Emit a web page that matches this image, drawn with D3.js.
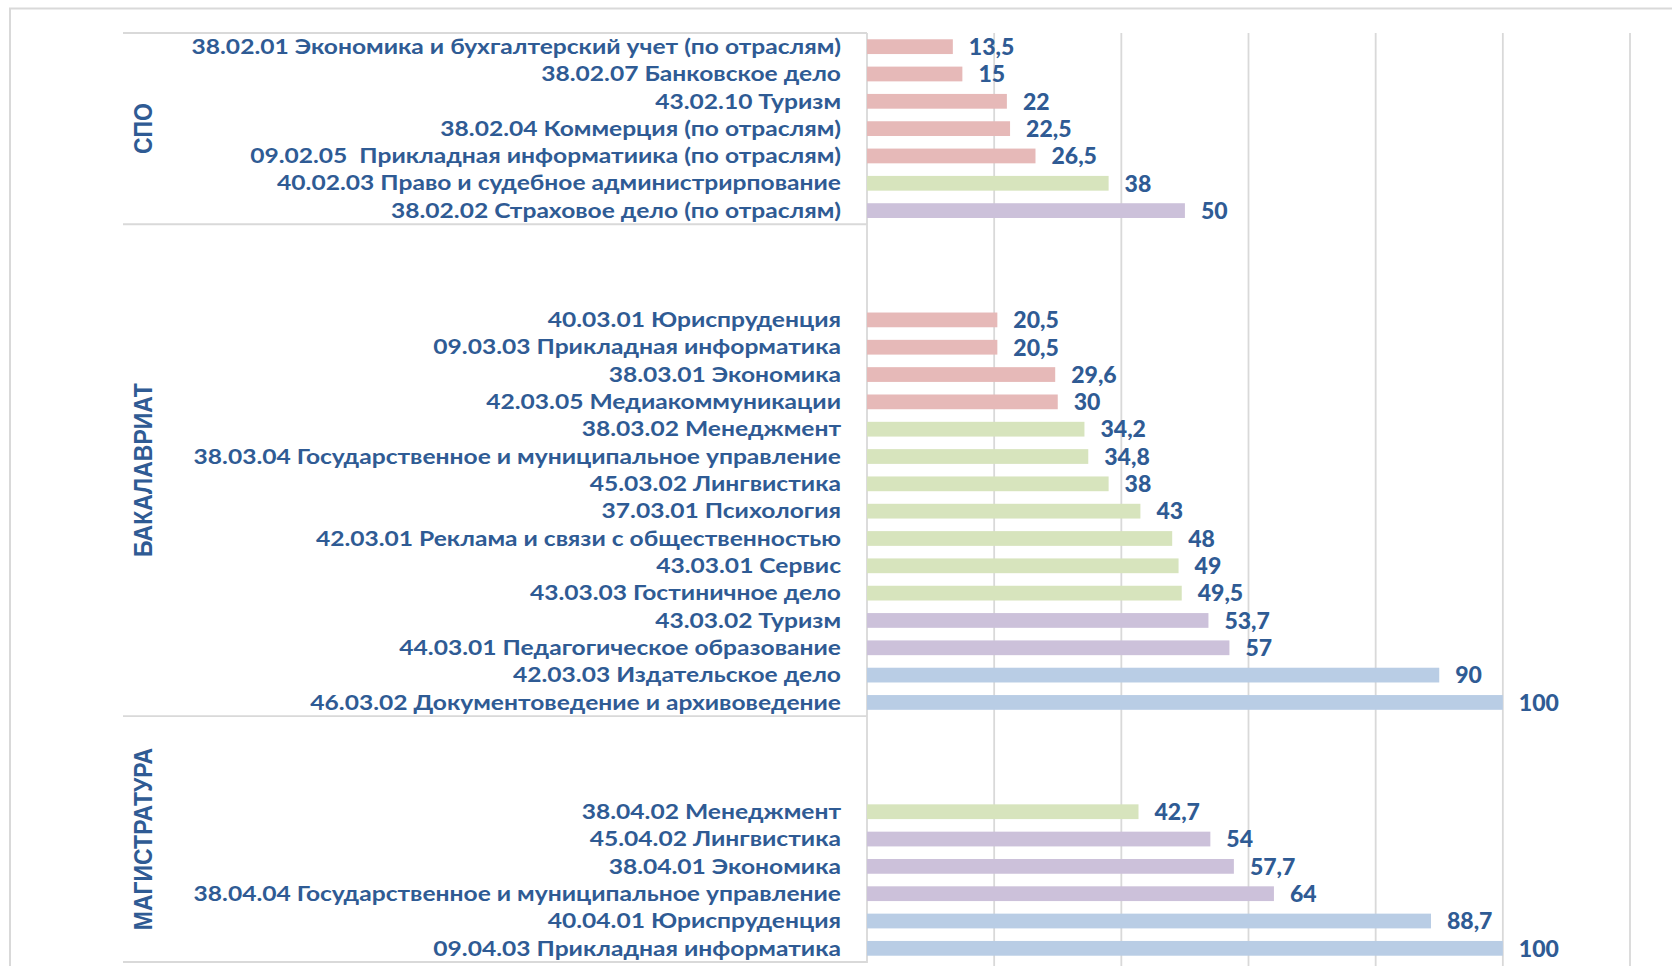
<!DOCTYPE html>
<html>
<head>
<meta charset="utf-8">
<script src="https://cdn.jsdelivr.net/npm/d3@7"></script>
<style>
  body { margin: 0; background: #fff; }
  text { white-space: pre; }
</style>
</head>
<body>
<div id="chart"></div>
<script>
// data
const groups = ["СПО", "БАКАЛАВРИАТ", "МАГИСТРАТУРА"];
const emptyRows = [0, 3, 3]; // blank category slots at the start of each group

const spoLabels = [
  "38.02.01 Экономика и бухгалтерский учет (по отраслям)",
  "38.02.07 Банковское дело",
  "43.02.10 Туризм",
  "38.02.04 Коммерция (по отраслям)",
  "09.02.05  Прикладная информатиика (по отраслям)",
  "40.02.03 Право и судебное администрирпование",
  "38.02.02 Страховое дело (по отраслям)"
];
const spoValues = [13.5, 15, 22, 22.5, 26.5, 38, 50];

const bakLabels = [
  "40.03.01 Юриспруденция",
  "09.03.03 Прикладная информатика",
  "38.03.01 Экономика",
  "42.03.05 Медиакоммуникации",
  "38.03.02 Менеджмент",
  "38.03.04 Государственное и муниципальное управление",
  "45.03.02 Лингвистика",
  "37.03.01 Психология",
  "42.03.01 Реклама и связи с общественностью",
  "43.03.01 Сервис",
  "43.03.03 Гостиничное дело",
  "43.03.02 Туризм",
  "44.03.01 Педагогическое образование",
  "42.03.03 Издательское дело",
  "46.03.02 Документоведение и архивоведение"
];
const bakValues = [20.5, 20.5, 29.6, 30, 34.2, 34.8, 38, 43, 48, 49, 49.5, 53.7, 57, 90, 100];

const magLabels = [
  "38.04.02 Менеджмент",
  "45.04.02 Лингвистика",
  "38.04.01 Экономика",
  "38.04.04 Государственное и муниципальное управление",
  "40.04.01 Юриспруденция",
  "09.04.03 Прикладная информатика"
];
const magValues = [42.7, 54, 57.7, 64, 88.7, 100];

const xTicks = [0, 20, 40, 60, 80, 100, 120];
const colorBreaks = [32, 50, 70];
const barColors = ["#e6b9b8", "#d7e4bd", "#ccc1da", "#b9cde5"];

// build rows
const groupLabels = [spoLabels, bakLabels, magLabels];
const groupValues = [spoValues, bakValues, magValues];
const rows = [];
const slots = [];
const groupSpans = [];
groups.forEach((g, gi) => {
  const start = slots.length;
  for (let i = 0; i < emptyRows[gi]; i++) slots.push(g + "-empty-" + i);
  groupLabels[gi].forEach((lab, i) => {
    const key = g + "|" + lab;
    slots.push(key);
    rows.push({ key, label: lab, value: groupValues[gi][i], group: g });
  });
  groupSpans.push({ name: g, start, end: slots.length });
});

const width = 1672, height = 966;
const plotLeft = 867, plotRight = 1630, plotTop = 33, plotBottom = 962;
const textColor = "#2f5b94";
const gridColor = "#d9d9d9";

const svg = d3.select("#chart").append("svg")
  .attr("width", width)
  .attr("height", height)
  .style("display", "block");

svg.append("rect")
  .attr("width", width).attr("height", height)
  .attr("fill", "#fff");

// chart area border (runs off the right/bottom like the original)
svg.append("rect")
  .attr("x", 10).attr("y", 8.5)
  .attr("width", width + 20).attr("height", height + 20)
  .attr("fill", "none")
  .attr("stroke", gridColor)
  .attr("stroke-width", 2);

const x = d3.scaleLinear().domain([0, 120]).range([plotLeft, plotRight]);
const y = d3.scaleBand().domain(slots).range([plotTop, plotBottom])
  .paddingInner(0.46).paddingOuter(0.23);
const color = d3.scaleThreshold().domain(colorBreaks).range(barColors);
const fmt = d3.formatLocale({ decimal: ",", thousands: " ", grouping: [3], currency: ["", ""] }).format("~g");

// vertical gridlines
svg.append("g")
  .selectAll("line")
  .data(xTicks.slice(1))
  .join("line")
  .attr("x1", d => x(d)).attr("x2", d => x(d))
  .attr("y1", plotTop).attr("y2", height)
  .attr("stroke", gridColor)
  .attr("stroke-width", 1.8);

// category axis line
svg.append("line")
  .attr("x1", x(0)).attr("x2", x(0))
  .attr("y1", plotTop).attr("y2", plotBottom + 1)
  .attr("stroke", gridColor)
  .attr("stroke-width", 1.8);

// group separators
const step = y.step();
const bounds = [plotTop].concat(groupSpans.map(s => plotTop + s.end * step));
svg.append("g")
  .selectAll("line")
  .data(bounds)
  .join("line")
  .attr("x1", 123).attr("x2", x(0))
  .attr("y1", d => d).attr("y2", d => d)
  .attr("stroke", gridColor)
  .attr("stroke-width", 1.8);

// bars
svg.append("g")
  .selectAll("rect")
  .data(rows)
  .join("rect")
  .attr("x", x(0))
  .attr("y", d => y(d.key))
  .attr("width", d => x(d.value) - x(0))
  .attr("height", y.bandwidth())
  .attr("fill", d => color(d.value));

// value labels
svg.append("g")
  .selectAll("text")
  .data(rows)
  .join("text")
  .attr("x", d => x(d.value) + 16)
  .attr("y", d => y(d.key) + y.bandwidth() / 2)
  .attr("dy", "0.36em")
  .attr("font-family", "Lato, sans-serif")
  .attr("font-weight", 900)
  .attr("font-size", 23)
  .attr("fill", textColor)
  .text(d => fmt(d.value));

// category labels (source text is wide, so stretch horizontally)
svg.append("g")
  .selectAll("text")
  .data(rows)
  .join("text")
  .attr("transform", d => `translate(841,${y(d.key) + y.bandwidth() / 2}) scale(1.23,1)`)
  .attr("text-anchor", "end")
  .attr("dy", "0.36em")
  .attr("font-family", "Lato, sans-serif")
  .attr("font-weight", "bold")
  .attr("font-size", 20)
  .attr("fill", textColor)
  .text(d => d.label);

// group labels
svg.append("g")
  .selectAll("text")
  .data(groupSpans)
  .join("text")
  .attr("transform", d => `translate(142.5,${plotTop + (d.start + d.end) / 2 * step}) rotate(-90) scale(1,1.15)`)
  .attr("text-anchor", "middle")
  .attr("dy", "0.36em")
  .attr("font-family", "Liberation Sans, Arial, sans-serif")
  .attr("font-weight", "bold")
  .attr("font-size", 23)
  .attr("fill", textColor)
  .text(d => d.name);
</script>
</body>
</html>
